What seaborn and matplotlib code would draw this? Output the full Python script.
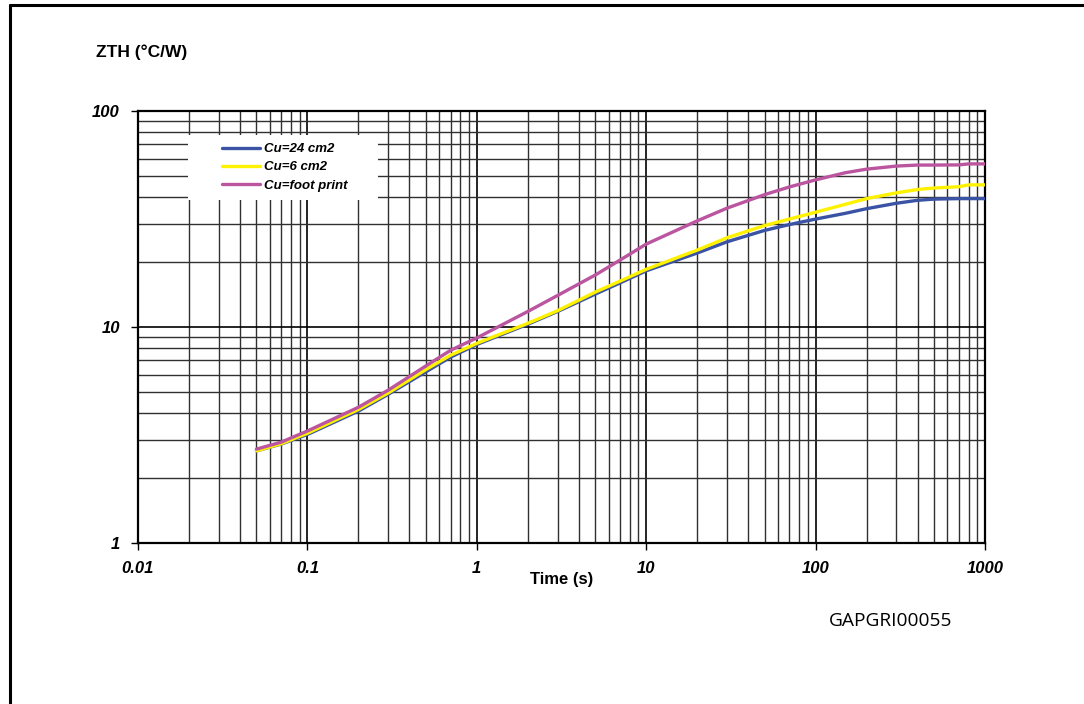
import matplotlib
matplotlib.use("Agg")
import matplotlib.pyplot as plt
import matplotlib.ticker as mticker
from matplotlib.lines import Line2D
from matplotlib.patches import Rectangle
import seaborn as sns
import numpy as np
import pandas as pd

# values
time_s = [0.05, 0.07, 0.1, 0.2, 0.3, 0.5, 0.7, 1, 2, 3, 5, 7, 10, 20, 30,
          50, 70, 100, 150, 200, 300, 400, 500, 700, 800, 1000]
zth_cu24 = [2.67, 2.87, 3.18, 4.08, 4.88, 6.2, 7.25, 8.3, 10.3, 11.8, 14.2, 16.0,
            18.2, 22.0, 24.8, 28.0, 29.8, 31.6, 33.6, 35.3, 37.4, 38.6, 39.1,
            39.3, 39.3, 39.3]
zth_cu6 = [2.67, 2.88, 3.22, 4.15, 4.95, 6.35, 7.4, 8.4, 10.4, 11.9, 14.5, 16.3,
           18.5, 22.7, 25.9, 29.5, 31.6, 34.0, 37.0, 39.3, 41.8, 43.3, 44.0,
           44.6, 45.5, 45.5]
zth_foot = [2.72, 2.93, 3.3, 4.25, 5.1, 6.6, 7.8, 8.9, 11.8, 14.0, 17.4, 20.4,
            24.2, 31.0, 35.5, 41.0, 44.5, 48.0, 51.8, 53.8, 55.6, 56.2, 56.2,
            56.3, 56.9, 56.9]
series_names = ["Cu=24 cm2", "Cu=6 cm2", "Cu=foot print"]
series_colors = ["#3a53a4", "#fff200", "#bb55a0"]

df = pd.concat([
    pd.DataFrame({"Time (s)": time_s, "ZTH": vals, "series": name})
    for name, vals in zip(series_names, [zth_cu24, zth_cu6, zth_foot])
])

sns.set_theme(style="white")
plt.rcParams["font.family"] = ["Liberation Sans", "DejaVu Sans"]
plt.rcParams["text.color"] = "black"
plt.rcParams["axes.labelcolor"] = "black"
plt.rcParams["xtick.color"] = "black"
plt.rcParams["ytick.color"] = "black"

fig = plt.figure(figsize=(10.84, 7.04), dpi=100)
ax = fig.add_axes([138 / 1084, 161 / 704, 847 / 1084, 432 / 704])

ax.set_xscale("log")
ax.set_yscale("log")
ax.set_xlim(0.01, 1000)
ax.set_ylim(1, 100)

sns.lineplot(data=df, x="Time (s)", y="ZTH", hue="series",
             palette=dict(zip(series_names, series_colors)),
             linewidth=2.4, ax=ax, legend=False, zorder=5)

# grid
ax.grid(True, which="major", color="black", linewidth=1.2, zorder=0)
ax.grid(True, which="minor", color="#303030", linewidth=1.0, zorder=0)
ax.set_axisbelow(True)
ax.xaxis.set_major_locator(mticker.LogLocator(base=10, numticks=10))
ax.xaxis.set_minor_locator(mticker.LogLocator(base=10, subs=np.arange(2, 10), numticks=50))
ax.yaxis.set_minor_locator(mticker.LogLocator(base=10, subs=np.arange(2, 10), numticks=50))
ax.xaxis.set_major_formatter(mticker.FuncFormatter(lambda v, p: f"{v:g}"))
ax.yaxis.set_major_formatter(mticker.FuncFormatter(lambda v, p: f"{v:g}"))
ax.xaxis.set_minor_formatter(mticker.NullFormatter())
ax.yaxis.set_minor_formatter(mticker.NullFormatter())
ax.tick_params(which="major", direction="out", length=5, width=1, color="black",
               labelcolor="black", bottom=True, left=True, labelsize=12, pad=8)
ax.tick_params(which="minor", length=0)
for lab in ax.get_xticklabels() + ax.get_yticklabels():
    lab.set_fontweight("bold")
    lab.set_fontstyle("italic")
for sp in ax.spines.values():
    sp.set_color("black")
    sp.set_linewidth(1.6)

ax.set_xlabel("Time (s)", fontsize=12, fontweight="bold", labelpad=-3,
              color="black")
ax.set_ylabel("")
fig.text(96 / 1084, 1 - 52 / 704, "ZTH (°C/W)", fontsize=12.5, fontweight="bold",
         va="center", ha="left", color="black")

# legend on a white box
ax.add_patch(Rectangle((50 / 847, (543 - 200) / 432), 190 / 847, 65 / 432,
                       transform=ax.transAxes, facecolor="white",
                       edgecolor="none", zorder=3))
handles = [Line2D([], [], color=c, linewidth=2.4) for c in series_colors]
leg = ax.legend(handles, series_names, loc="upper left",
                bbox_to_anchor=(84 / 847, (543 - 143) / 432), frameon=False,
                prop={"size": 9.5, "weight": "bold", "style": "italic"},
                handlelength=2.9, handletextpad=0.3, labelspacing=0.45,
                borderpad=0, borderaxespad=0, labelcolor="black")
leg.set_zorder(6)

fig.text(829 / 1084, 1 - 621 / 704, "GAPGRI00055", fontsize=13.8,
         family="Open Sans", va="center", ha="left", color="black")

# outer frame
fig.add_artist(Line2D([10 / 1084, 10 / 1084], [0, 1 - 5 / 704], color="black",
                      linewidth=2.2, transform=fig.transFigure))
fig.add_artist(Line2D([10 / 1084, 1], [1 - 5 / 704, 1 - 5 / 704], color="black",
                      linewidth=2.2, transform=fig.transFigure))

fig.savefig("out.png", dpi=100)
